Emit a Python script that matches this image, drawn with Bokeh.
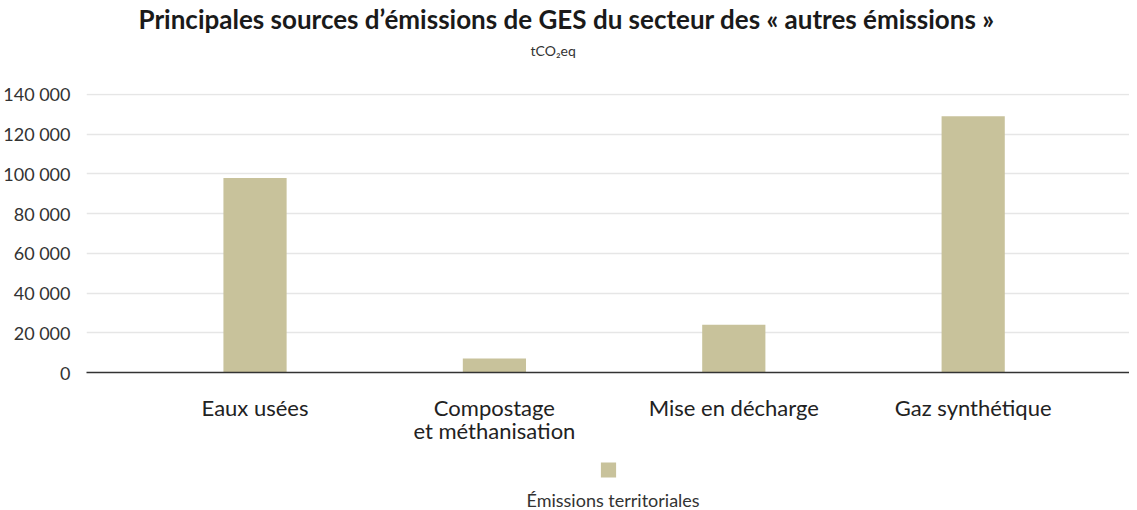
from bokeh.plotting import figure
from bokeh.layouts import column
from bokeh.models import (Range1d, FixedTicker, CustomJSTickFormatter,
                          Title, Legend, LegendItem)
from bokeh.embed import file_html
from bokeh.resources import INLINE

categories = ["Eaux usées", "Compostage\net méthanisation", "Mise en décharge", "Gaz synthétique"]
values = [98000, 7000, 24000, 129000]
y_ticks = [0, 20000, 40000, 60000, 80000, 100000, 120000, 140000]
series_name = "Émissions territoriales"
title_text = "Principales sources d’émissions de GES du secteur des « autres émissions »"
subtitle_text = "tCO₂eq"

FONT = "Lato"
BAR = "#c8c29b"
TXT = "#333333"

# category slots on a numeric axis (slot i centred at i + 0.5)
x_pos = [i + 0.5 for i in range(len(categories))]

p = figure(width=1129, height=452,
           x_range=Range1d(-0.204, len(categories) + 0.153),
           y_range=Range1d(0, 140500),
           output_backend="svg", toolbar_location=None,
           min_border_left=84, min_border_right=0, min_border_top=0, min_border_bottom=80,
           title=None)
p.outline_line_color = None

r = p.vbar(x=x_pos, top=values, width=0.264, fill_color=BAR, line_color=None)

# titles (added from the frame outward)
p.add_layout(Title(text=" ", text_font_size="1px", standoff=27), "above")
p.add_layout(Title(text=subtitle_text, align="left", offset=444, text_font=FONT,
                   text_font_size="14px", text_font_style="normal", text_color=TXT,
                   standoff=10), "above")
p.add_layout(Title(text=title_text, align="left", offset=52, text_font=FONT,
                   text_font_size="26px", text_font_style="bold", text_color="#1a1a1a",
                   standoff=0), "above")

# axes
p.yaxis.ticker = FixedTicker(ticks=y_ticks)
p.yaxis.formatter = CustomJSTickFormatter(code="return tick.toString().replace(/\\B(?=(\\d{3})+(?!\\d))/g, ' ');")
p.yaxis.axis_line_color = None
p.yaxis.major_tick_line_color = None
p.yaxis.minor_tick_line_color = None
p.yaxis.major_label_text_font = FONT
p.yaxis.major_label_text_font_size = "18px"
p.yaxis.major_label_text_color = TXT
p.yaxis.major_label_standoff = 10

p.xaxis.ticker = FixedTicker(ticks=x_pos)
p.xaxis.major_label_overrides = {x: c for x, c in zip(x_pos, categories)}
p.xaxis.axis_line_color = "#333333"
p.xaxis.axis_line_width = 1.5
p.xaxis.major_tick_line_color = None
p.xaxis.minor_tick_line_color = None
p.xaxis.major_label_text_font = FONT
p.xaxis.major_label_text_font_size = "22px"
p.xaxis.major_label_text_line_height = 0.86
p.xaxis.major_label_text_color = "#222222"
p.xaxis.major_label_standoff = 15

p.xgrid.grid_line_color = None
p.ygrid.grid_line_color = "#e6e6e6"
p.ygrid.grid_line_width = 1.5

# legend panel
p2 = figure(width=1129, height=58, x_range=Range1d(0, 1), y_range=Range1d(0, 1),
            output_backend="svg", toolbar_location=None,
            x_axis_location=None, y_axis_location=None,
            min_border_left=84, min_border_right=0, min_border_top=0, min_border_bottom=0)
p2.outline_line_color = None
p2.xgrid.grid_line_color = None
p2.ygrid.grid_line_color = None
nan = float("nan")
r2 = p2.vbar(x=[nan], top=[nan], width=0.1, fill_color=BAR, line_color=None)
legend = Legend(items=[LegendItem(label=" ", renderers=[r2])], location="top_center",
                orientation="horizontal", border_line_color=None, background_fill_alpha=0,
                glyph_width=19, glyph_height=19, label_height=19, label_standoff=0,
                label_width=0, padding=0, margin=8)
p2.add_layout(legend, "center")
p2.add_layout(Title(text=series_name, align="left", offset=440, vertical_align="bottom",
                    text_font=FONT, text_font_size="18px",
                    text_font_style="normal", text_color=TXT, standoff=0), "below")

layout = column(p, p2, spacing=0)
open("out.html", "w").write(file_html(layout, INLINE))
